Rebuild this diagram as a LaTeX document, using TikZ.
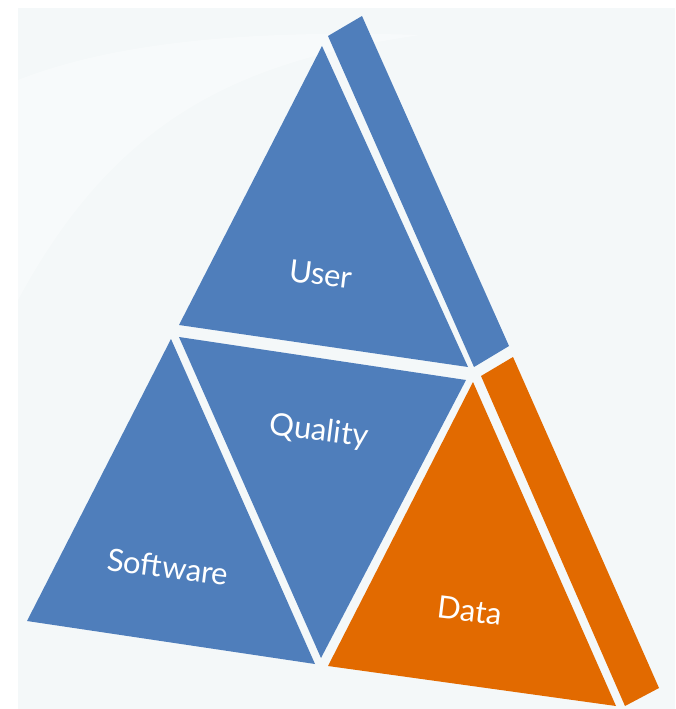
\documentclass[tikz,border=0pt]{standalone}
\usepackage{fontspec}
\setmainfont{Lato}
\begin{document}
\definecolor{pyrblue}{RGB}{79,126,187}
\definecolor{pyrorange}{RGB}{226,106,0}
\definecolor{paper}{RGB}{244,248,249}
\begin{tikzpicture}[x=1pt,y=-1pt,
  face/.style={fill=pyrblue,draw=none},
  hot/.style={fill=pyrorange,draw=none},
  label/.style={text=white,font=\fontsize{31}{36}\selectfont,rotate=-7,inner sep=0pt}]
% canvas
\useasboundingbox (0,0) rectangle (675,709);
\fill[white] (0,0) rectangle (675,709);
\fill[paper] (18,8) rectangle (675,709);
\fill[white,opacity=0.35] (18,80) .. controls (120,40) and (260,30) .. (420,35)
  .. controls (250,60) and (120,110) .. (18,300) -- cycle;

% top tier: user face and its side slab
\fill[face] (322,46) -- (179,325) -- (468,367) -- cycle;
\fill[face] (328,36) -- (362,16) -- (509,346) -- (474,367) -- cycle;

% middle: quality (inverted)
\fill[face] (179,337) -- (466,380) -- (321,658) -- cycle;

% bottom left: software
\fill[face] (171,339) -- (315,664) -- (27,621) -- cycle;

% bottom right: data and its side slab
\fill[hot] (473,382) -- (616,706) -- (328,666) -- cycle;
\fill[hot] (481,376) -- (513,357) -- (659,688) -- (625,706) -- cycle;

% labels
\node[label] (user) at (321,274) {User};
\node[label] (quality) at (319,432) {Quality};
\node[label] (software) at (168,567) {Software};
\node[label] (data) at (470,611) {Data};
\end{tikzpicture}
\end{document}
